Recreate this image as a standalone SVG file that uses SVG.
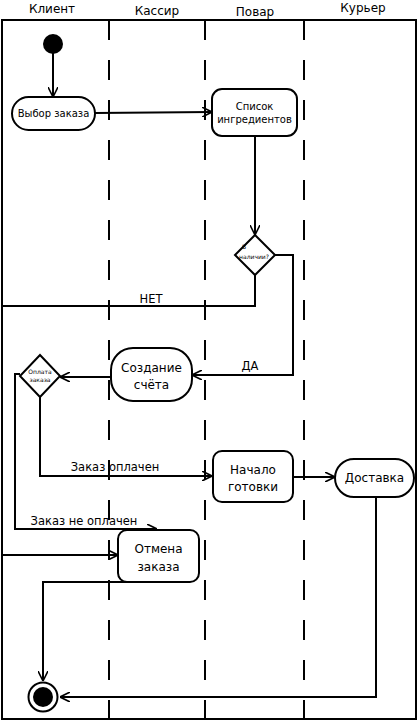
<svg xmlns="http://www.w3.org/2000/svg" width="418" height="721" viewBox="0 0 418 721">
<defs>
<marker id="arr" viewBox="0 0 10 10" refX="10" refY="5" markerWidth="10" markerHeight="10" markerUnits="userSpaceOnUse" orient="auto">
<path d="M0,0 L10,5 L0,10" fill="none" stroke="#000" stroke-width="1.6"/>
</marker>
</defs>
<style>
text{font-family:"DejaVu Sans","Liberation Sans",sans-serif;fill:#000;text-anchor:middle}
.hdr{font-size:12px}
.t12{font-size:12px}
.lbl{font-size:11.5px}
.t10{font-size:10px}
.tiny{font-size:6px}
.node{fill:#fff;stroke:#000;stroke-width:2}
.lane{stroke:#000;stroke-width:2;stroke-dasharray:20 20;fill:none}
.edge{fill:none;stroke:#000;stroke-width:2;marker-end:url(#arr)}
</style>
<rect width="418" height="721" fill="#fff"/>
<g id="swimlanes">
<rect x="2" y="20" width="414" height="699" fill="none" stroke="#000" stroke-width="2"/>
<line class="lane" x1="109" y1="20" x2="109" y2="719"/>
<line class="lane" x1="205" y1="20" x2="205" y2="719"/>
<line class="lane" x1="304" y1="20" x2="304" y2="719"/>
<text class="hdr" x="52" y="13">Клиент</text>
<text class="hdr" x="157" y="15">Кассир</text>
<text class="hdr" x="255" y="16">Повар</text>
<text class="hdr" x="363" y="12">Курьер</text>
</g>
<g id="connectors">
<path class="edge" d="M53,53 L53,97"/>
<path class="edge" d="M95,113 L212,112"/>
<path class="edge" d="M255,136 L255,235"/>
<path class="edge" d="M275,255 L293,255 L293,375 L192,375"/>
<text class="lbl" x="250" y="370">ДА</text>
<path class="edge" d="M255,275 L255,306 L2,306 L2,555 L118,555"/>
<text class="lbl" x="151" y="303">НЕТ</text>
<path class="edge" d="M111,377 L60,377"/>
<path class="edge" d="M40,397 L40,476 L212,476"/>
<text class="lbl" x="115" y="471">Заказ оплачен</text>
<path class="edge" d="M20,374 L15,374 L15,529 L157,529"/>
<text class="lbl" x="84" y="525">Заказ не оплачен</text>
<path class="edge" d="M293,477 L335,477"/>
<path class="edge" d="M376,497 L376,697 L60,697"/>
<path class="edge" d="M158,582 L43,582 L43,681"/>
</g>
<g id="start">
<circle cx="53" cy="44" r="10" fill="#000"/>
</g>
<g id="vybor">
<rect class="node" x="12" y="97" width="83" height="33" rx="16.5"/>
<text class="t10" x="53.5" y="117">Выбор заказа</text>
</g>
<g id="spisok">
<rect class="node" x="212" y="89" width="85" height="47" rx="10"/>
<text class="t10" x="254.5" y="110">Список</text>
<text class="t10" x="254.5" y="123">ингредиентов</text>
</g>
<g id="nalichie">
<polygon class="node" points="255,235 275,255 255,275 235,255"/>
<text class="tiny" x="244" y="249">В</text>
<text class="tiny" x="254" y="259">наличии?</text>
</g>
<g id="schet">
<rect class="node" x="111" y="348" width="81" height="53" rx="22"/>
<text class="t12" x="151.5" y="372">Создание</text>
<text class="t12" x="151.5" y="389">счёта</text>
</g>
<g id="oplata">
<polygon class="node" points="40,355 60,376 40,397 20,376"/>
<text class="tiny" x="40" y="374">Оплата</text>
<text class="tiny" x="40" y="382">заказа</text>
</g>
<g id="nachalo">
<rect class="node" x="213" y="451" width="80" height="51" rx="9"/>
<text class="t12" x="253" y="474">Начало</text>
<text class="t12" x="253" y="491">готовки</text>
</g>
<g id="dostavka">
<rect class="node" x="335" y="459" width="79" height="38" rx="19"/>
<text class="t12" x="374.5" y="482">Доставка</text>
</g>
<g id="otmena">
<rect class="node" x="118" y="530" width="81" height="52" rx="9"/>
<text class="t12" x="158.5" y="553">Отмена</text>
<text class="t12" x="158.5" y="571">заказа</text>
</g>
<g id="end">
<circle cx="43" cy="697" r="14.5" fill="#fff" stroke="#000" stroke-width="2"/>
<circle cx="43" cy="697" r="10" fill="#000"/>
</g>
</svg>
